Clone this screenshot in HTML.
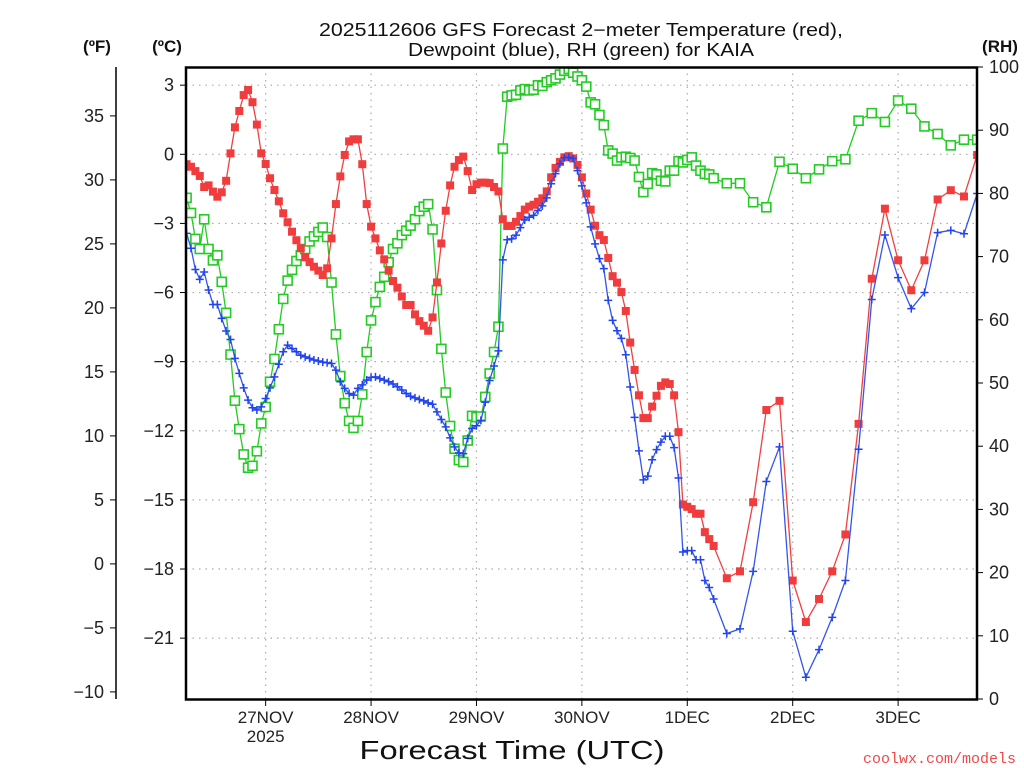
<!DOCTYPE html>
<html><head><meta charset="utf-8"><style>
html,body{margin:0;padding:0;background:#fff;}
svg{display:block;font-family:"Liberation Sans",sans-serif;}
</style></head><body>
<svg id="chart" width="1024" height="768" viewBox="0 0 1024 768" xmlns="http://www.w3.org/2000/svg">
<rect x="0" y="0" width="1024" height="768" fill="#fff"/>
<text x="581" y="36" font-size="18" text-anchor="middle" textLength="524" lengthAdjust="spacingAndGlyphs" fill="#111">2025112606 GFS Forecast 2−meter Temperature (red),</text>
<text x="581" y="56" font-size="18" text-anchor="middle" textLength="346" lengthAdjust="spacingAndGlyphs" fill="#111">Dewpoint (blue), RH (green) for KAIA</text>
<text x="97" y="52" font-size="17" font-weight="bold" text-anchor="middle" fill="#111">(ºF)</text>
<text x="167" y="52" font-size="17" font-weight="bold" text-anchor="middle" fill="#111">(ºC)</text>
<text x="1000" y="52" font-size="17" font-weight="bold" text-anchor="middle" fill="#111">(RH)</text>
<text x="512" y="759" font-size="26" text-anchor="middle" textLength="305" lengthAdjust="spacingAndGlyphs" fill="#111">Forecast Time (UTC)</text>
<text x="1016" y="763" font-size="15" text-anchor="end" fill="#f04848" font-family="Liberation Mono, monospace">coolwx.com/models</text>
<g id="grid"></g>
<g id="axes"></g>
<defs><clipPath id="plotclip"><rect x="186" y="67" width="791" height="632"/></clipPath></defs>
<g id="series" clip-path="url(#plotclip)"></g>
<rect x="186" y="67.5" width="791" height="632" fill="none" stroke="#000" stroke-width="2.5"/>
</svg>
<script>
// ---- data ----
const hours = [0,1,2,3,4,5,6,7,8,9,10,11,12,13,14,15,16,17,18,19,20,21,22,23,24,25,26,27,28,29,30,31,32,33,34,35,36,37,38,39,40,41,42,43,44,45,46,47,48,49,50,51,52,53,54,55,56,57,58,59,60,61,62,63,64,65,66,67,68,69,70,71,72,73,74,75,76,77,78,79,80,81,82,83,84,85,86,87,88,89,90,91,92,93,94,95,96,97,98,99,100,101,102,103,104,105,106,107,108,109,110,111,112,113,114,115,116,117,118,119,120,123,126,129,132,135,138,141,144,147,150,153,156,159,162,165,168,171,174,177,180];
const tempC = [-0.43,-0.54,-0.73,-0.94,-1.42,-1.35,-1.62,-1.84,-1.65,-1.15,0.04,1.17,1.88,2.57,2.79,2.26,1.29,0.04,-0.42,-1.04,-1.55,-2.04,-2.56,-2.95,-3.36,-3.73,-4.08,-4.47,-4.68,-4.88,-5.05,-5.24,-4.95,-3.65,-2.16,-0.96,-0.03,0.56,0.65,0.65,-0.43,-2.16,-3.14,-3.65,-4.17,-4.56,-5.05,-5.5,-5.79,-6.17,-6.54,-6.54,-6.95,-7.24,-7.44,-7.66,-7.08,-5.56,-3.87,-2.45,-1.35,-0.54,-0.25,-0.10,-0.73,-1.55,-1.3,-1.23,-1.23,-1.25,-1.42,-1.61,-2.82,-3.11,-3.11,-2.93,-2.68,-2.40,-2.27,-2.19,-2.06,-1.91,-1.61,-1.00,-0.59,-0.33,-0.13,-0.08,-0.18,-0.46,-1.0,-1.70,-2.40,-3.10,-3.51,-3.72,-4.50,-5.29,-5.57,-5.98,-6.80,-8.17,-9.36,-10.46,-11.45,-11.45,-10.95,-10.48,-10.05,-9.90,-9.97,-10.46,-12.06,-15.2,-15.3,-15.4,-15.6,-15.6,-16.4,-16.7,-17.0,-18.4,-18.1,-15.1,-11.1,-10.7,-18.5,-20.3,-19.3,-18.1,-16.5,-11.7,-5.4,-2.36,-4.6,-5.9,-4.6,-1.96,-1.56,-1.83,-0.03];
const dewC = [-3.43,-4.08,-5.0,-5.43,-5.11,-5.89,-6.52,-6.52,-7.12,-7.67,-8.04,-8.86,-9.51,-10.14,-10.67,-11.0,-11.1,-10.96,-10.6,-10.14,-9.66,-9.11,-8.57,-8.28,-8.43,-8.57,-8.72,-8.79,-8.86,-8.93,-8.97,-9.02,-9.05,-9.08,-9.37,-9.87,-10.16,-10.38,-10.45,-10.16,-10.01,-9.8,-9.68,-9.66,-9.73,-9.8,-9.87,-9.97,-10.09,-10.23,-10.38,-10.5,-10.57,-10.64,-10.7,-10.79,-10.85,-11.18,-11.51,-11.83,-12.31,-12.7,-12.96,-12.99,-12.33,-11.9,-11.78,-11.55,-10.76,-9.82,-9.19,-8.53,-4.58,-3.71,-3.67,-3.51,-3.18,-2.85,-2.73,-2.65,-2.44,-2.24,-1.89,-1.28,-0.84,-0.41,-0.15,-0.13,-0.18,-0.71,-1.37,-2.11,-3.15,-3.89,-4.53,-4.96,-6.34,-7.21,-7.66,-7.99,-8.70,-10.1,-11.42,-12.87,-14.13,-13.97,-13.26,-12.82,-12.49,-12.24,-12.24,-12.73,-14.05,-17.26,-17.2,-17.2,-17.6,-17.6,-18.5,-18.8,-19.3,-20.8,-20.6,-18.1,-14.2,-12.7,-20.7,-22.7,-21.5,-20.1,-18.5,-12.8,-6.3,-3.5,-5.35,-6.7,-6.0,-3.4,-3.3,-3.45,-1.7];
const rhPct = [79.3,76.9,72.8,71.2,75.9,71.2,69.4,70.2,66.0,61.1,54.5,47.2,42.7,38.7,36.6,36.9,39.2,43.6,46.2,50.2,53.8,58.5,63.3,66.2,67.9,69.3,70.2,71.2,72.4,73.2,73.9,74.6,73.1,65.9,57.7,51.1,46.8,44.0,42.9,44.0,48.2,54.9,59.9,62.8,65.2,66.8,69.1,71.2,72.1,73.4,74.1,74.9,75.9,77.2,77.9,78.3,74.3,64.7,55.4,48.5,43.2,39.6,37.8,37.5,40.9,44.8,44.6,44.7,47.8,51.5,54.9,58.9,87.1,95.3,95.5,95.6,96.3,96.5,96.3,96.4,97.1,97.0,97.6,97.9,98.2,98.8,99.4,99.7,99.1,98.5,97.9,96.9,94.4,94.1,92.4,90.8,86.8,86.3,85.2,85.7,85.8,85.6,85.2,82.6,80.2,81.5,83.2,83.0,82.0,81.9,83.6,83.6,85.1,84.9,85.3,85.7,84.4,83.6,83.1,83.0,82.4,81.6,81.6,78.6,77.8,85.0,83.9,82.4,83.8,85.1,85.4,91.5,92.7,91.3,94.7,93.4,90.6,89.4,87.6,88.5,88.5];
const celsiusTicks = [3,0,-3,-6,-9,-12,-15,-18,-21];
const fahrenheitTicks = [35,30,25,20,15,10,5,0,-5,-10];
const rhTicks = [100,90,80,70,60,50,40,30,20,10,0];
const dayTicks = [18,42,66,90,114,138,162];
const dayLabels = ["27NOV","28NOV","29NOV","30NOV","1DEC","2DEC","3DEC"];

// ---- scales ----
const xS = h => 186.6 + h * 4.392;
const yC = c => 154.3 - c * 23.04;
const yF = f => yC((f - 32) / 1.8);
const yR = r => 699 - r * 6.32;
const NS = "http://www.w3.org/2000/svg";
function mk(tag, attrs, parent) {
  const e = document.createElementNS(NS, tag);
  for (const k in attrs) e.setAttribute(k, attrs[k]);
  parent.appendChild(e);
  return e;
}
const grid = document.getElementById('grid');
const axes = document.getElementById('axes');
const series = document.getElementById('series');

// gridlines
celsiusTicks.forEach(c => {
  const l = mk('line', {x1:186, x2:977, y1:yC(c), y2:yC(c), stroke:'#aaa', 'stroke-width':1.2, 'stroke-dasharray':'1.5 5'}, grid);
  
  
  const t = mk('line', {x1:180, x2:186, y1:yC(c), y2:yC(c), stroke:'#000', 'stroke-width':1}, axes);
  
  
  const tx = mk('text', {x:174, y:yC(c)+6, 'font-size':18, 'text-anchor':'end', fill:'#222'}, axes);
  tx.textContent = c < 0 ? '−' + Math.abs(c) : String(c);
  
  
});
dayTicks.forEach((h, i) => {
  const l = mk('line', {x1:xS(h), x2:xS(h), y1:67, y2:699, stroke:'#aaa', 'stroke-width':1.2, 'stroke-dasharray':'1.5 5'}, grid);
  
  
  const t = mk('line', {x1:xS(h), x2:xS(h), y1:699, y2:706, stroke:'#000', 'stroke-width':1}, axes);
  
  
  const tx = mk('text', {x:xS(h), y:723, 'font-size':17, 'text-anchor':'middle', fill:'#222'}, axes);
  tx.textContent = dayLabels[i];
  
  
});
const yr = mk('text', {x:xS(dayTicks[0]), y:742, 'font-size':17, 'text-anchor':'middle', fill:'#222'}, axes);
yr.textContent = '2025';



// fahrenheit axis
const fax = mk('line', {x1:116, x2:116, y1:67, y2:699, stroke:'#000', 'stroke-width':1.5}, axes);


fahrenheitTicks.forEach(f => {
  const t = mk('line', {x1:110, x2:116, y1:yF(f), y2:yF(f), stroke:'#000', 'stroke-width':1}, axes);
  
  
  const tx = mk('text', {x:104, y:yF(f)+6, 'font-size':18, 'text-anchor':'end', fill:'#222'}, axes);
  tx.textContent = f < 0 ? '−' + Math.abs(f) : String(f);
  
  
});
// RH axis
rhTicks.forEach(r => {
  const t = mk('line', {x1:977, x2:983, y1:yR(r), y2:yR(r), stroke:'#000', 'stroke-width':1}, axes);
  
  
  const tx = mk('text', {x:989, y:yR(r)+6, 'font-size':18, 'text-anchor':'start', fill:'#222'}, axes);
  tx.textContent = String(r);
  
  
});

// series
function pathFor(vals, yf) {
  return vals.map((v, i) => (i ? 'L' : 'M') + xS(hours[i]).toFixed(1) + ' ' + yf(v).toFixed(1)).join(' ');
}
const rhLine = mk('path', {d:pathFor(rhPct, yR), fill:'none', stroke:'#22cc22', 'stroke-width':1.3}, series);


rhPct.forEach((v, i) => {
  const m = mk('rect', {x:xS(hours[i])-4.5, y:yR(v)-4.5, width:9, height:9, fill:'#fff', stroke:'#22cc22', 'stroke-width':1.6}, series);
  
  
});
const tLine = mk('path', {d:pathFor(tempC, yC), fill:'none', stroke:'#f04040', 'stroke-width':1.3}, series);


tempC.forEach((v, i) => {
  const m = mk('rect', {x:xS(hours[i])-4, y:yC(v)-4, width:8, height:8, fill:'#f03c3c'}, series);
  
  
});
const dLine = mk('path', {d:pathFor(dewC, yC), fill:'none', stroke:'#3355ee', 'stroke-width':1.3}, series);


dewC.forEach((v, i) => {
  const x = xS(hours[i]), y = yC(v);
  const m = mk('path', {d:`M${x-4} ${y} H${x+4} M${x} ${y-4} V${y+4}`, stroke:'#2244ee', 'stroke-width':1.5, fill:'none'}, series);
  
  
});
</script>
</body></html>
